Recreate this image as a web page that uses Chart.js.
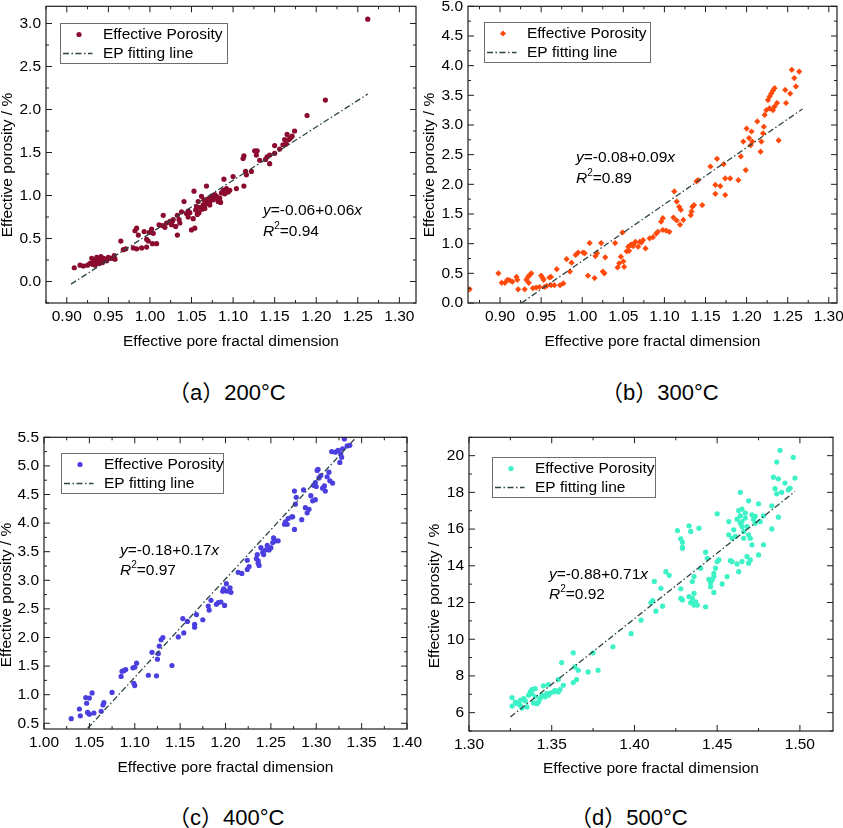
<!DOCTYPE html>
<html><head><meta charset="utf-8">
<script src="https://cdn.jsdelivr.net/npm/chart.js@4.4.1/dist/chart.umd.min.js"></script>
<style>
html,body{margin:0;padding:0;background:#fff;width:843px;height:828px;overflow:hidden;position:relative}
canvas{position:absolute}
.cap{position:absolute;font-family:"Liberation Sans","Noto Sans CJK SC",sans-serif;font-size:22px;line-height:22px;color:#000;white-space:nowrap}
</style></head><body>
<canvas id="ca"></canvas><canvas id="cb"></canvas><canvas id="cc"></canvas><canvas id="cd"></canvas>
<div class="cap" style="left:168px;top:382px">（a）200°C</div>
<div class="cap" style="left:601px;top:382px">（b）300°C</div>
<div class="cap" style="left:168px;top:807px">（c）400°C</div>
<div class="cap" style="left:570px;top:807px">（d）500°C</div>
<script>
// ---------- tick values ----------
const xTicksA = [0.90,0.95,1.00,1.05,1.10,1.15,1.20,1.25,1.30];
const yTicksA = [0.0,0.5,1.0,1.5,2.0,2.5,3.0];
const xTicksB = [0.90,0.95,1.00,1.05,1.10,1.15,1.20,1.25,1.30];
const yTicksB = [0.0,0.5,1.0,1.5,2.0,2.5,3.0,3.5,4.0,4.5,5.0];
const xTicksC = [1.00,1.05,1.10,1.15,1.20,1.25,1.30,1.35,1.40];
const yTicksC = [0.5,1.0,1.5,2.0,2.5,3.0,3.5,4.0,4.5,5.0,5.5];
const xTicksD = [1.30,1.35,1.40,1.45,1.50];
const yTicksD = [6,8,10,12,14,16,18,20];

// ---------- series: [fractal dimension, effective porosity %] ----------
const pts200 = [[0.909,0.16],[0.916,0.19],[0.920,0.18],[0.925,0.19],[0.928,0.21],[0.930,0.27],[0.931,0.20],[0.933,0.23],[0.934,0.19],[0.935,0.25],[0.936,0.28],[0.937,0.22],[0.938,0.26],[0.939,0.21],[0.940,0.24],[0.941,0.29],[0.942,0.25],[0.943,0.22],[0.944,0.27],[0.946,0.26],[0.948,0.24],[0.950,0.28],[0.952,0.27],[0.955,0.27],[0.957,0.30],[0.958,0.26],
[0.965,0.47],[0.968,0.37],[0.971,0.38],[0.980,0.39],[0.982,0.59],[0.984,0.62],[0.984,0.38],[0.986,0.54],[0.990,0.39],[0.993,0.58],[0.996,0.40],[0.996,0.49],[0.998,0.47],[0.999,0.57],[1.002,0.61],[1.003,0.44],[1.004,0.56],[1.008,0.44],
[1.011,0.66],[1.015,0.65],[1.016,0.77],[1.018,0.63],[1.020,0.68],[1.024,0.70],[1.026,0.66],[1.027,0.70],[1.028,0.72],[1.031,0.64],[1.033,0.54],[1.033,0.77],[1.035,0.72],[1.036,0.68],[1.038,0.81],[1.041,0.93],[1.044,0.79],[1.046,0.75],[1.046,0.82],[1.048,0.80],[1.050,0.60],[1.052,0.73],[1.053,1.05],[1.054,0.62],[1.055,0.83],[1.056,0.87],[1.057,0.78],[1.058,0.93],[1.059,0.80],[1.060,0.86],[1.062,0.99],[1.063,0.84],[1.064,0.89],[1.065,0.95],[1.066,0.85],[1.067,0.90],[1.068,1.11],[1.068,0.93],[1.070,0.96],[1.072,0.89],[1.072,0.93],[1.074,0.99],[1.076,0.95],[1.078,1.01],[1.079,0.97],[1.080,0.99],[1.082,0.93],[1.084,0.97],[1.085,0.92],[1.086,1.03],[1.088,1.06],[1.089,1.19],[1.090,1.02],[1.092,1.08],[1.094,1.04],[1.096,1.06],[1.100,1.22],[1.104,1.08],
[1.112,1.43],[1.113,1.46],[1.113,1.11],[1.115,1.28],[1.116,1.24],[1.122,1.28],[1.126,1.52],[1.128,1.47],[1.129,1.52],[1.132,1.41],[1.139,1.42],[1.141,1.45],[1.144,1.47],[1.144,1.37],[1.150,1.58],[1.150,1.49],[1.156,1.54],[1.160,1.59],[1.162,1.65],[1.164,1.60],[1.165,1.71],[1.167,1.65],[1.169,1.67],[1.171,1.69],[1.174,1.75],[1.189,1.93],[1.211,2.11],[1.262,3.05]];
const fit200 = [[0.905,-0.03],[1.262,2.18]];

const pts300 = [[0.863,0.23],[0.898,0.50],[0.902,0.34],[0.906,0.34],[0.909,0.39],[0.912,0.38],[0.915,0.36],[0.920,0.44],[0.921,0.39],[0.922,0.23],[0.930,0.23],[0.932,0.39],[0.934,0.44],[0.936,0.47],[0.938,0.50],[0.935,0.34],[0.940,0.25],[0.944,0.26],[0.948,0.27],[0.950,0.46],[0.952,0.42],[0.953,0.39],[0.954,0.27],[0.957,0.29],[0.960,0.43],[0.962,0.44],[0.962,0.30],[0.966,0.30],[0.969,0.57],[0.973,0.30],[0.977,0.33],[0.981,0.74],[0.985,0.53],[0.987,0.68],[0.992,0.81],[0.995,0.85],[1.001,0.85],[1.003,0.84],[1.007,0.46],[1.009,1.01],[1.015,0.42],[1.016,0.79],[1.018,0.84],[1.023,1.01],[1.025,0.53],[1.027,0.50],[1.028,0.77],[1.040,1.01],[1.043,0.60],[1.045,0.67],[1.047,0.78],[1.049,1.19],[1.050,0.70],[1.051,0.61],[1.054,0.87],[1.056,0.95],[1.057,0.88],[1.059,0.98],[1.060,0.98],[1.062,0.96],[1.064,1.02],[1.065,1.03],[1.068,0.95],[1.070,1.03],[1.072,1.02],[1.074,1.06],[1.077,0.92],[1.082,1.09],[1.086,1.11],[1.090,1.17],[1.092,1.20],[1.096,1.37],[1.098,1.43],[1.098,1.23],[1.102,1.22],[1.106,1.20],[1.111,1.44],[1.112,1.88],[1.115,1.71],[1.115,1.39],[1.118,1.62],[1.119,1.32],[1.120,1.57],[1.123,1.40],[1.132,1.48],[1.133,1.54],[1.134,1.62],[1.136,1.65],[1.139,2.05],[1.141,2.07],[1.146,1.65],[1.156,2.30],[1.162,1.84],[1.162,1.99],[1.164,2.43],[1.168,1.97],[1.172,2.34],[1.174,2.10],[1.174,1.82],[1.180,2.10],[1.190,2.07],[1.193,2.47],[1.196,2.72],[1.199,2.24],[1.200,2.94],[1.203,2.78],[1.205,2.66],[1.206,2.89],[1.207,2.72],[1.213,3.06],[1.217,2.55],[1.218,2.72],[1.220,2.86],[1.221,2.97],[1.222,3.17],[1.224,3.25],[1.226,3.42],[1.228,3.48],[1.228,3.28],[1.230,3.53],[1.232,3.58],[1.232,3.25],[1.234,3.62],[1.234,3.31],[1.237,3.37],[1.239,2.74],[1.247,3.59],[1.248,3.37],[1.253,3.53],[1.255,3.93],[1.258,3.79],[1.260,3.65],[1.264,3.90]];
const fit300 = [[0.926,0.0],[1.268,3.27]];

const pts400 = [[1.030,0.58],[1.039,0.75],[1.040,0.63],[1.046,0.95],[1.047,0.85],[1.048,0.69],[1.050,0.94],[1.050,0.66],[1.053,1.03],[1.055,0.68],[1.063,0.71],[1.065,0.82],[1.066,0.86],[1.075,1.04],[1.085,1.32],[1.086,1.41],[1.088,1.42],[1.090,1.44],[1.098,1.47],[1.099,1.20],[1.100,1.16],[1.100,1.48],[1.102,1.55],[1.115,1.34],[1.119,1.74],[1.124,1.33],[1.125,1.62],[1.126,1.72],[1.127,1.85],[1.129,1.96],[1.131,2.00],[1.141,1.51],[1.148,2.01],[1.153,2.33],[1.154,2.08],[1.158,2.28],[1.166,2.23],[1.166,2.18],[1.168,2.40],[1.175,2.31],[1.181,2.55],[1.182,2.48],[1.184,2.65],[1.190,2.58],[1.192,2.61],[1.195,2.62],[1.197,2.81],[1.198,2.85],[1.199,2.56],[1.201,2.94],[1.202,2.81],[1.205,2.87],[1.206,2.79],[1.214,3.14],[1.218,3.12],[1.224,3.19],[1.224,3.35],[1.226,3.24],[1.234,3.38],[1.235,3.45],[1.236,3.30],[1.236,3.34],[1.237,3.26],[1.239,3.57],[1.241,3.49],[1.242,3.45],[1.244,3.53],[1.246,3.61],[1.248,3.53],[1.250,3.57],[1.252,3.66],[1.253,3.74],[1.255,3.69],[1.258,3.69],[1.265,3.98],[1.266,4.02],[1.268,3.98],[1.269,4.08],[1.273,4.11],[1.274,4.11],[1.276,3.89],[1.276,4.56],[1.278,4.45],[1.277,4.33],[1.284,4.06],[1.286,4.58],[1.288,4.27],[1.290,4.18],[1.292,4.24],[1.294,4.48],[1.296,4.39],[1.297,4.66],[1.299,4.41],[1.299,4.71],[1.300,4.64],[1.301,4.92],[1.302,4.94],[1.303,4.79],[1.305,4.83],[1.307,4.61],[1.309,4.65],[1.310,4.56],[1.312,4.81],[1.314,4.89],[1.315,4.74],[1.317,5.25],[1.318,4.70],[1.321,5.24],[1.324,5.27],[1.326,5.06],[1.327,5.21],[1.328,5.15],[1.329,5.30],[1.331,5.47],[1.334,5.35],[1.337,5.36]];
const fit400 = [[1.048,0.41],[1.344,5.5]];

const pts500 = [[1.326,6.82],[1.326,6.36],[1.328,6.58],[1.329,6.49],[1.331,6.40],[1.331,6.67],[1.332,6.25],[1.333,6.76],[1.334,6.64],[1.335,6.31],[1.336,6.95],[1.337,7.13],[1.338,7.26],[1.338,7.04],[1.339,6.53],[1.340,6.86],[1.340,7.31],[1.341,6.49],[1.342,6.58],[1.343,6.76],[1.344,6.95],[1.345,7.46],[1.346,6.86],[1.347,7.04],[1.348,7.53],[1.348,6.95],[1.349,7.07],[1.351,7.13],[1.352,7.22],[1.354,7.80],[1.354,7.13],[1.355,7.26],[1.356,8.73],[1.357,7.49],[1.363,9.26],[1.363,7.64],[1.364,8.49],[1.365,7.80],[1.366,8.31],[1.372,8.22],[1.375,9.26],[1.378,8.31],[1.387,9.59],[1.398,10.30],[1.404,11.04],[1.410,12.00],[1.411,12.10],[1.412,13.15],[1.413,11.53],[1.416,12.77],[1.417,11.80],[1.419,13.68],[1.421,13.48],[1.426,15.92],[1.428,15.47],[1.429,15.28],[1.429,15.01],[1.429,14.96],[1.428,12.75],[1.428,12.23],[1.429,12.14],[1.433,16.18],[1.433,12.32],[1.434,11.99],[1.434,15.87],[1.435,13.14],[1.435,12.23],[1.436,11.86],[1.436,13.41],[1.436,12.50],[1.437,12.04],[1.438,11.86],[1.439,16.05],[1.440,13.87],[1.443,11.77],[1.443,14.74],[1.444,14.41],[1.445,13.26],[1.446,13.08],[1.446,12.86],[1.447,13.23],[1.448,13.41],[1.448,12.55],[1.448,13.59],[1.449,13.87],[1.450,14.23],[1.450,16.83],[1.451,14.32],[1.453,13.01],[1.456,13.41],[1.457,15.69],[1.457,16.41],[1.458,14.28],[1.459,14.23],[1.459,15.50],[1.460,15.96],[1.461,15.60],[1.462,16.54],[1.462,14.10],[1.463,17.01],[1.463,13.68],[1.464,18.00],[1.464,16.32],[1.464,16.72],[1.465,16.14],[1.465,14.23],[1.465,17.09],[1.465,16.41],[1.466,15.87],[1.466,15.50],[1.467,16.60],[1.467,16.87],[1.468,14.50],[1.468,16.14],[1.469,17.54],[1.469,15.69],[1.469,14.14],[1.470,15.50],[1.470,14.32],[1.471,16.78],[1.471,15.14],[1.472,16.54],[1.473,16.32],[1.473,16.69],[1.475,17.38],[1.475,14.59],[1.476,16.41],[1.478,16.72],[1.478,15.14],[1.483,16.01],[1.483,17.27],[1.484,18.83],[1.485,18.20],[1.486,19.65],[1.486,17.92],[1.487,18.74],[1.487,16.65],[1.488,20.29],[1.489,18.00],[1.491,18.51],[1.493,18.14],[1.494,18.23],[1.496,19.91],[1.497,18.78]];
const fit500 = [[1.325,5.76],[1.497,18.05]];

// fitted equations and R2 labels
const eqText = ['=-0.06+0.06', '=-0.08+0.09', '=-0.18+0.17', '=-0.88+0.71'];
const r2Text = ['=0.94', '=0.89', '=0.97', '=0.92'];
const seriesName = 'Effective Porosity';
const fitName = 'EP fitting line';
const xTitle = 'Effective pore fractal dimension';
const yTitle = 'Effective porosity / %';

// ---------- layout / style ----------
const FONT = '"Liberation Sans", Arial, sans-serif';
const FS = 15.5, LH = FS * 1.2;
const FIT_COLOR = '#2c4541';
const DASH = [6, 2.5, 1.5, 2.5];

const panels = [
 {id:'ca', L:46, T:6, R:416, B:303, yTx:7.3, yTy:165, xTy:341.5, xr:[0.875,1.32], yr:[-0.25,3.2], xt:xTicksA, yt:yTicksA, xd:2, yd:1,
  pts:pts200, fit:fit200, color:'#8b0b2e', style:'circle', r:2.6, leg:{x:14,y:16.7,w:166.7}, eq:{x:217,y1:204,y2:225}, k:0},
 {id:'cb', L:468, T:6, R:837, B:303, yTx:429.3, yTy:165, xTy:341.7, xr:[0.861,1.31], yr:[0,5], xt:xTicksB, yt:yTicksB, xd:2, yd:1,
  pts:pts300, fit:fit300, color:'#ff4a0c', style:'rectRot', r:3.1, leg:{x:16.3,y:15.7,w:165.7}, eq:{x:108,y1:151,y2:172}, k:1},
 {id:'cc', L:44, T:437, R:407, B:729, yTx:6.7, yTy:595, xTy:767.3, xr:[1.0,1.4], yr:[0.4,5.5], xt:xTicksC, yt:yTicksC, xd:2, yd:1,
  pts:pts400, fit:fit400, color:'#4b3fe0', style:'circle', r:2.6, leg:{x:16.7,y:15.4,w:162.3}, eq:{x:76,y1:113,y2:133}, k:2},
 {id:'cd', L:469, T:437, R:833, B:731, yTx:435, yTy:596, xTy:768.3, xr:[1.30,1.52], yr:[5,21], xt:xTicksD, yt:yTicksD, xd:2, yd:0,
  pts:pts500, fit:fit500, color:'#3cf2c6', style:'circle', r:2.6, leg:{x:22.7,y:19.4,w:163.3}, eq:{x:80,y1:137,y2:157}, k:3}
];

function marker(ctx, style, x, y, r, color) {
  ctx.fillStyle = color;
  ctx.beginPath();
  if (style === 'rectRot') {
    ctx.moveTo(x - r, y); ctx.lineTo(x, y - r); ctx.lineTo(x + r, y); ctx.lineTo(x, y + r); ctx.closePath();
  } else {
    ctx.arc(x, y, r, 0, Math.PI * 2);
  }
  ctx.fill();
}

function runs(ctx, x, y, parts) {
  for (const p of parts) {
    ctx.font = p.f;
    ctx.fillText(p.t, x, y + (p.dy || 0));
    x += ctx.measureText(p.t).width;
  }
}

function minors(major, min, max) {
  const step = major[1] - major[0];
  const out = [];
  for (let v = major[0] - step / 2; v <= max + 1e-9; v += step) {
    if (v >= min - 1e-9) out.push(v);
  }
  return out;
}

panels.forEach(p => {
  const cl = p.L - 50, ct = p.T - 14;
  const cw = p.R + 24 - cl;
  const ch = Math.round(p.xTy + LH / 2 - ct);
  const xAxisH = ch - 14 - (p.B - p.T);
  const cv = document.getElementById(p.id);
  cv.width = cw; cv.height = ch;
  cv.style.left = cl + 'px'; cv.style.top = ct + 'px';
  cv.style.width = cw + 'px'; cv.style.height = ch + 'px';

  const deco = {
    id: 'deco' + p.k,
    afterDraw(chart) {
      const {ctx, chartArea: a, scales: {x, y}} = chart;
      ctx.save();
      // frame
      ctx.strokeStyle = '#1e1e1e';
      ctx.lineWidth = 1.2;
      ctx.strokeRect(a.left, a.top, a.right - a.left, a.bottom - a.top);
      // inward ticks on all four sides
      ctx.lineWidth = 1;
      ctx.beginPath();
      const tickX = (v, len) => { const px = x.getPixelForValue(v); if (px < a.left - 0.5 || px > a.right + 0.5) return;
        ctx.moveTo(px, a.bottom); ctx.lineTo(px, a.bottom - len); ctx.moveTo(px, a.top); ctx.lineTo(px, a.top + len); };
      const tickY = (v, len) => { const py = y.getPixelForValue(v); if (py < a.top - 0.5 || py > a.bottom + 0.5) return;
        ctx.moveTo(a.left, py); ctx.lineTo(a.left + len, py); ctx.moveTo(a.right, py); ctx.lineTo(a.right - len, py); };
      p.xt.forEach(v => tickX(v, 6));
      p.yt.forEach(v => tickY(v, 6));
      minors(p.xt, p.xr[0], p.xr[1]).forEach(v => tickX(v, 3));
      minors(p.yt, p.yr[0], p.yr[1]).forEach(v => tickY(v, 3));
      ctx.stroke();

      // y-axis title
      ctx.save();
      ctx.translate(p.yTx - cl, p.yTy - ct);
      ctx.rotate(-Math.PI / 2);
      ctx.fillStyle = '#000';
      ctx.font = FS + 'px ' + FONT;
      ctx.textAlign = 'center'; ctx.textBaseline = 'middle';
      ctx.fillText(yTitle, 0, 0);
      ctx.restore();

      // legend
      const bx = Math.round(a.left + p.leg.x) + 0.5, by = Math.round(a.top + p.leg.y) + 0.5;
      ctx.fillStyle = '#fff';
      ctx.fillRect(bx, by, p.leg.w, 40.6);
      ctx.strokeStyle = '#6e6e6e'; ctx.lineWidth = 1;
      ctx.strokeRect(bx, by, Math.round(p.leg.w), 40);
      marker(ctx, p.style, bx + 18.5, by + 11, p.r, p.color);
      ctx.strokeStyle = FIT_COLOR; ctx.lineWidth = 1.3; ctx.setLineDash(DASH);
      ctx.beginPath(); ctx.moveTo(bx + 2.5, by + 30); ctx.lineTo(bx + 32, by + 30); ctx.stroke();
      ctx.setLineDash([]);
      ctx.fillStyle = '#000'; ctx.textAlign = 'left'; ctx.textBaseline = 'middle';
      ctx.font = FS + 'px ' + FONT;
      ctx.fillText(seriesName, bx + 42.5, by + 11);
      ctx.fillText(fitName, bx + 42.5, by + 30);

      // equation
      const reg = FS + 'px ' + FONT, it = 'italic ' + FS + 'px ' + FONT, sm = '10px ' + FONT;
      const ex = a.left + p.eq.x;
      runs(ctx, ex, a.top + p.eq.y1, [{t:'y', f:it}, {t:eqText[p.k], f:reg}, {t:'x', f:it}]);
      runs(ctx, ex, a.top + p.eq.y2, [{t:'R', f:it}, {t:'2', f:sm, dy:-5}, {t:r2Text[p.k], f:reg}]);
      ctx.restore();
    }
  };

  new Chart(cv, {
    type: 'scatter',
    data: {
      datasets: [
        {label: fitName, data: p.fit.map(([x, y]) => ({x, y})), showLine: true, borderColor: FIT_COLOR, borderWidth: 1.3,
         borderDash: DASH, pointRadius: 0, fill: false, order: 0},
        {label: seriesName, data: p.pts.map(([x, y]) => ({x, y})), backgroundColor: p.color, borderColor: p.color,
         borderWidth: 0, pointRadius: p.r, pointStyle: p.style, order: 1}
      ]
    },
    options: {
      responsive: false, animation: false, devicePixelRatio: 1, events: [],
      layout: {padding: {left: 0, top: 14, right: 24, bottom: 0}},
      plugins: {legend: {display: false}, tooltip: {enabled: false}},
      scales: {
        x: {
          type: 'linear', position: 'bottom', min: p.xr[0], max: p.xr[1],
          grid: {display: false, drawTicks: false}, border: {display: false},
          afterBuildTicks: s => { s.ticks = p.xt.map(v => ({value: v})); },
          afterFit: s => { s.height = xAxisH; },
          ticks: {padding: 4, color: '#000', font: {family: FONT, size: FS}, maxRotation: 0, autoSkip: false,
                  callback: v => Number(v).toFixed(p.xd)},
          title: {display: true, text: xTitle, color: '#000', font: {family: FONT, size: FS}, padding: 0}
        },
        y: {
          type: 'linear', position: 'left', min: p.yr[0], max: p.yr[1],
          grid: {display: false, drawTicks: false}, border: {display: false},
          afterBuildTicks: s => { s.ticks = p.yt.map(v => ({value: v})); },
          afterFit: s => { s.width = 50; },
          ticks: {padding: 5, color: '#000', font: {family: FONT, size: FS}, autoSkip: false,
                  callback: v => Number(v).toFixed(p.yd)},
          title: {display: false}
        }
      }
    },
    plugins: [deco]
  });
});
</script>
</body></html>
